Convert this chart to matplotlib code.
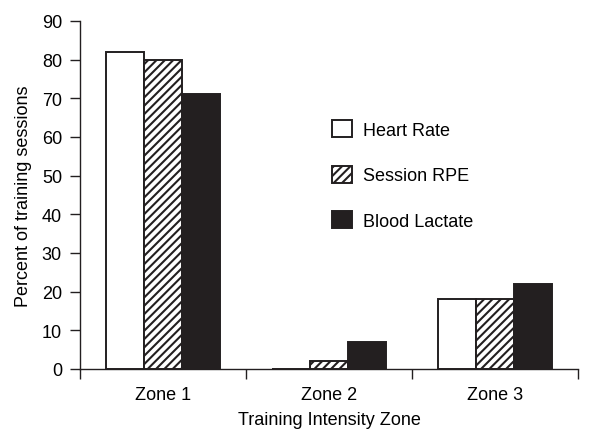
import matplotlib
matplotlib.use("Agg")
import matplotlib.pyplot as plt
import numpy as np

zones = ["Zone 1", "Zone 2", "Zone 3"]
series = ["Heart Rate", "Session RPE", "Blood Lactate"]
heart_rate = [82, 0, 18]
session_rpe = [80, 2, 18]
blood_lactate = [71, 7, 22]
y_ticks = [0, 10, 20, 30, 40, 50, 60, 70, 80, 90]

plt.rcParams['font.family'] = ['Liberation Sans', 'DejaVu Sans']
plt.rcParams['hatch.linewidth'] = 1.5

fig = plt.figure(figsize=(5.95, 4.31), dpi=100)
ax = fig.add_axes([80/595, 61/431, (578-80)/595, (370-22)/431])

dark = '#231f20'
x = np.arange(len(zones))
w = 0.23
offsets = [-w, 0, w]
styles = [dict(facecolor='white', edgecolor=dark, hatch=None),
          dict(facecolor='white', edgecolor=dark, hatch='////'),
          dict(facecolor=dark, edgecolor=dark, hatch=None)]
for vals, off, st, name in zip([heart_rate, session_rpe, blood_lactate], offsets, styles, series):
    ax.bar(x + off, vals, width=w, linewidth=1.4, label=name, **st)

ax.set_xlim(-0.5, 2.5)
ax.set_ylim(0, 90)
ax.set_yticks(y_ticks)
ax.set_xticks(x)
ax.set_xticklabels(zones)
ax.set_xticks([-0.5, 0.5, 1.5, 2.5], minor=True)
ax.tick_params(axis='x', which='major', length=0, pad=12, labelsize=13)
ax.tick_params(axis='x', which='minor', length=7, width=1, direction='out', color=dark)
ax.tick_params(axis='y', length=7, width=1, direction='out', pad=6, labelsize=13, color=dark)
for s in ['top', 'right']:
    ax.spines[s].set_visible(False)
for s in ['left', 'bottom']:
    ax.spines[s].set_linewidth(1)
    ax.spines[s].set_color(dark)

ax.set_ylabel("Percent of training sessions", fontsize=13, labelpad=7)
ax.set_xlabel("Training Intensity Zone", fontsize=13, labelpad=6)

leg = ax.legend(loc='upper left', bbox_to_anchor=(332/595, 1 - 121/431),
                bbox_transform=fig.transFigure, frameon=False, fontsize=13,
                handlelength=1.1, handleheight=1.1, labelspacing=1.48,
                handletextpad=0.6, borderpad=0, borderaxespad=0)

fig.savefig("out.png", dpi=100)
